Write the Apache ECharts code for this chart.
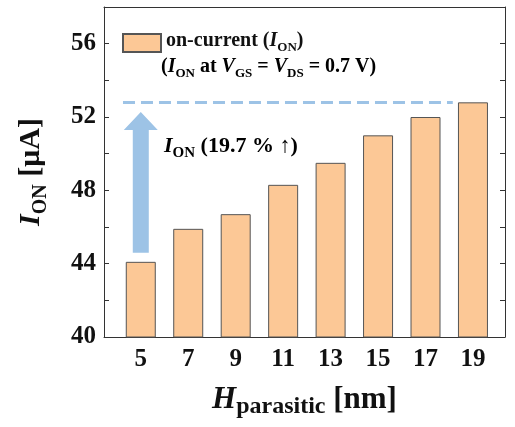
<!DOCTYPE html>
<html>
<head>
<meta charset="utf-8">
<script src="https://cdn.jsdelivr.net/npm/echarts@6/dist/echarts.min.js"></script>
<style>
  html, body { margin: 0; padding: 0; background: #fff; }
  #main { width: 515px; height: 427px; }
</style>
</head>
<body>
<div id="main"></div>
<script>
// H_parasitic 取值 (nm)
const hParasitic = [5, 7, 9, 11, 13, 15, 17, 19];
// 导通电流 I_ON (μA)
const ionValues = [44.1, 45.9, 46.7, 48.3, 49.5, 51.0, 52.0, 52.8];
// y 轴刻度标签
const yTickLabels = [40, 44, 48, 52, 56];
// 提升幅度
const ionGain = "19.7";

const FONT = "'Times New Roman', 'Liberation Serif', serif";
const BLUE = "#9dc3e6";
const ORANGE = "#fcc896";

// 富文本样式: 正文 / 斜体 / 下标
function richSet(size, color, subRatio, drop) {
  const sub = Math.round(size * (subRatio || 0.66));
  return {
    b: { fontFamily: FONT, fontWeight: "bold", fontSize: size, color: color, lineHeight: size + 4, verticalAlign: "top" },
    i: { fontFamily: FONT, fontWeight: "bold", fontStyle: "italic", fontSize: size, color: color, lineHeight: size + 4, verticalAlign: "top" },
    s: { fontFamily: FONT, fontWeight: "bold", fontSize: sub, color: color, lineHeight: sub, verticalAlign: "top", padding: [Math.round(size * (drop || 0.5)), 0, 0, 0] },
  };
}

const barData = hParasitic.map((h, i) => [h, ionValues[i]]);

const chart = echarts.init(document.getElementById("main"));

const axisLineStyle = { color: "#333", width: 1 };

const option = {
  animation: false,
  grid: { left: 104, right: 10, top: 7, bottom: 90 },
  legend: {
    left: 117,
    top: 26,
    itemWidth: 38,
    itemHeight: 18,
    icon: "rect",
    data: ["on-current"],
    formatter: () => "{b|on-current (}{i|I}{s|ON}{b|)}",
    textStyle: { rich: richSet(20, "#111") },
  },
  xAxis: [
    {
      type: "value",
      min: 3.45,
      max: 20.35,
      splitLine: { show: false },
      axisLine: { lineStyle: axisLineStyle },
      axisTick: { show: false },
      axisLabel: {
        customValues: hParasitic,
        margin: 10,
        fontFamily: FONT,
        fontWeight: "bold",
        fontSize: 25,
        color: "#111",
      },
      name: "{i|H}{s|parasitic}{b| [nm]}",
      nameLocation: "middle",
      nameGap: 47,
      nameTextStyle: { rich: richSet(31, "#111", 0.77, 0.36) },
    },
    {
      type: "value",
      position: "top",
      min: 3.45,
      max: 20.35,
      splitLine: { show: false },
      axisLine: { lineStyle: axisLineStyle },
      axisTick: { show: false },
      axisLabel: { show: false },
    },
  ],
  yAxis: [
    {
      type: "value",
      min: 40,
      max: 58,
      interval: 2,
      splitLine: { show: false },
      axisLine: { show: true, lineStyle: axisLineStyle },
      axisTick: { show: true, inside: true, length: 5, lineStyle: axisLineStyle },
      axisLabel: {
        margin: 8,
        fontFamily: FONT,
        fontWeight: "bold",
        fontSize: 25,
        color: "#111",
        formatter: (v) => (yTickLabels.indexOf(v) >= 0 ? String(v) : ""),
      },
      name: "{i|I}{s|ON}{b| [μA]}",
      nameLocation: "middle",
      nameRotate: 90,
      nameGap: 54,
      nameTextStyle: { rich: richSet(30, "#111") },
    },
    {
      type: "value",
      position: "right",
      min: 40,
      max: 58,
      interval: 2,
      splitLine: { show: false },
      axisLine: { show: true, lineStyle: axisLineStyle },
      axisTick: { show: true, inside: true, length: 5, lineStyle: axisLineStyle },
      axisLabel: { show: false },
    },
  ],
  series: [
    {
      name: "on-current",
      type: "bar",
      data: barData,
      barWidth: 30,
      itemStyle: { color: ORANGE, borderColor: "#555", borderWidth: 1 },
      markLine: {
        silent: true,
        symbol: "none",
        label: { show: false },
        lineStyle: { color: BLUE, width: 3, type: [12, 6] },
        data: [[{ coord: [4.25, ionValues[ionValues.length - 1]] }, { coord: [18.15, ionValues[ionValues.length - 1]] }]],
      },
    },
  ],
};

chart.setOption(option);

// 蓝色箭头与注释 (按数据坐标换算像素位置)
const bottom = chart.convertToPixel({ gridIndex: 0 }, [hParasitic[0], 44.6]);
const tip = chart.convertToPixel({ gridIndex: 0 }, [hParasitic[0], 52.27]);
const cx = bottom[0];
const shaftW = 16, headW = 34, headH = 18;

chart.setOption({
  graphic: [
    {
      type: "polygon",
      silent: true,
      shape: {
        points: [
          [cx - shaftW / 2, bottom[1]],
          [cx - shaftW / 2, tip[1] + headH],
          [cx - headW / 2, tip[1] + headH],
          [cx, tip[1]],
          [cx + headW / 2, tip[1] + headH],
          [cx + shaftW / 2, tip[1] + headH],
          [cx + shaftW / 2, bottom[1]],
        ],
      },
      style: { fill: BLUE },
    },
    {
      type: "text",
      silent: true,
      left: 164,
      top: 135,
      style: {
        text: "{i|I}{s|ON}{b| (" + ionGain + " % ↑)}",
        rich: richSet(22, BLUE),
      },
    },
    {
      type: "text",
      silent: true,
      left: 161,
      top: 57,
      style: {
        text: "{b|(}{i|I}{s|ON}{b| at }{i|V}{s|GS}{b| = }{i|V}{s|DS}{b| = 0.7 V)}",
        rich: richSet(20, "#111"),
      },
    },
  ],
});
</script>
</body>
</html>
